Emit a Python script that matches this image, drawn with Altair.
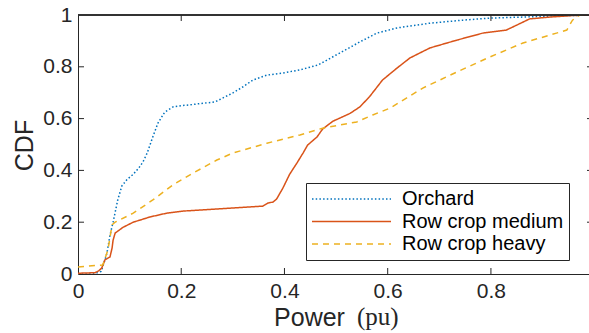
import altair as alt
import pandas as pd

series_names = ["Orchard", "Row crop medium", "Row crop heavy"]
series_colors = ["#0072BD", "#D95319", "#EDB120"]
series_dash = [[1.5, 2.2], [1, 0], [6, 5]]

orchard_x = [0, 0.03, 0.045, 0.05, 0.056, 0.062, 0.068, 0.077, 0.085, 0.095, 0.107,
             0.118, 0.126, 0.134, 0.145, 0.155, 0.168, 0.184, 0.2, 0.217, 0.236,
             0.265, 0.281, 0.30, 0.319, 0.339, 0.366, 0.397, 0.43, 0.465, 0.507,
             0.546, 0.579, 0.618, 0.68, 0.745, 0.798, 0.862, 0.93, 1.0]
orchard_y = [0, 0.0, 0.01, 0.04, 0.08, 0.15, 0.2, 0.286, 0.34, 0.365, 0.385,
             0.41, 0.433, 0.467, 0.53, 0.583, 0.625, 0.645, 0.65, 0.653, 0.658,
             0.664, 0.68, 0.699, 0.722, 0.749, 0.768, 0.776, 0.788, 0.807, 0.853,
             0.896, 0.93, 0.95, 0.968, 0.98, 0.988, 0.992, 0.997, 1.0]

medium_x = [0, 0.033, 0.04, 0.046, 0.052, 0.062, 0.066, 0.068, 0.072, 0.087, 0.107,
            0.139, 0.172, 0.204, 0.269, 0.333, 0.358, 0.368, 0.378, 0.385, 0.397,
            0.41, 0.424, 0.436, 0.445, 0.463, 0.474, 0.494, 0.527, 0.546, 0.565,
            0.59, 0.618, 0.643, 0.682, 0.734, 0.784, 0.83, 0.85, 0.875, 0.914,
            0.96, 1.0]
medium_y = [0.003, 0.005, 0.012, 0.023, 0.054, 0.066, 0.1, 0.131, 0.158, 0.18, 0.2,
            0.22, 0.235, 0.243, 0.251, 0.259, 0.262, 0.274, 0.278, 0.29, 0.332,
            0.385, 0.428, 0.467, 0.498, 0.529, 0.56, 0.59, 0.62, 0.645, 0.685,
            0.749, 0.795, 0.834, 0.873, 0.903, 0.93, 0.942, 0.961, 0.985, 0.992,
            0.998, 1.0]

heavy_x = [0, 0.048, 0.058, 0.066, 0.072, 0.107, 0.145, 0.184, 0.223, 0.269, 0.30,
           0.366, 0.43, 0.474, 0.54, 0.571, 0.604, 0.637, 0.668, 0.734, 0.798,
           0.862, 0.927, 0.947, 0.958, 0.972, 1.0]
heavy_y = [0.027, 0.035, 0.093, 0.19, 0.2, 0.235, 0.286, 0.344, 0.39, 0.44, 0.467,
           0.505, 0.537, 0.563, 0.587, 0.614, 0.64, 0.68, 0.718, 0.78, 0.838,
           0.892, 0.93, 0.942, 0.98, 1.0, 1.0]

x_ticks = [0, 0.2, 0.4, 0.6, 0.8]
y_ticks = [0, 0.2, 0.4, 0.6, 0.8, 1]

rows = []
for name, xs_, ys_ in zip(series_names, [orchard_x, medium_x, heavy_x],
                          [orchard_y, medium_y, heavy_y]):
    for i, (a, b) in enumerate(zip(xs_, ys_)):
        rows.append({"series": name, "power": a, "cdf": b, "i": i})
df = pd.DataFrame(rows)

W, H = 511, 259
AX = "#262626"
FONT = "Liberation Sans"

xscale = alt.Scale(domain=[0, 0.99], nice=False, zero=False)
yscale = alt.Scale(domain=[0, 1], nice=False)

x_axis = alt.Axis(values=x_ticks, format="~g", title="Power",
                  labelFontSize=21, labelPadding=6, labelFlush=False,
                  titleFontSize=25,
                  titleX=231, titleY=51, titleBaseline="alphabetic",
                  titleAnchor="middle", titleAlign="center")
y_axis = alt.Axis(values=y_ticks, format="~g", title="CDF",
                  labelFontSize=21, labelPadding=6, labelFlush=False,
                  titleFontSize=25,
                  titleX=-46, titleY=130, titleAngle=270,
                  titleBaseline="alphabetic", titleAlign="center")

legend = alt.Legend(
    title=None, orient="none", legendX=228, legendY=168,
    symbolType="stroke", symbolSize=6241, symbolStrokeWidth=1.5,
    labelFontSize=20, labelFont=FONT, labelColor="black", labelOffset=10,
    labelLimit=400,
    clipHeight=22, rowPadding=0.5, padding=5,
    strokeColor=AX, fillColor="white",
)

lines = alt.Chart(df).mark_line(strokeWidth=1.5, clip=True).encode(
    x=alt.X("power:Q", scale=xscale, axis=x_axis),
    y=alt.Y("cdf:Q", scale=yscale, axis=y_axis),
    color=alt.Color("series:N", scale=alt.Scale(domain=series_names, range=series_colors),
                    legend=legend),
    strokeDash=alt.StrokeDash("series:N",
                              scale=alt.Scale(domain=series_names, range=series_dash),
                              legend=legend),
    order="i:Q",
)

xt = pd.DataFrame({"power": x_ticks[1:]})
yt = pd.DataFrame({"cdf": y_ticks[1:-1]})

bottom_ticks = alt.Chart(xt).mark_rule(color=AX, strokeWidth=1).encode(
    x=alt.X("power:Q", scale=xscale, axis=x_axis), y=alt.value(H), y2=alt.value(H - 6))
top_ticks = alt.Chart(xt).mark_rule(color=AX, strokeWidth=1).encode(
    x=alt.X("power:Q", scale=xscale, axis=x_axis), y=alt.value(0), y2=alt.value(6))
left_ticks = alt.Chart(yt).mark_rule(color=AX, strokeWidth=1).encode(
    y=alt.Y("cdf:Q", scale=yscale, axis=y_axis), x=alt.value(0), x2=alt.value(6))
right_ticks = alt.Chart(yt).mark_rule(color=AX, strokeWidth=1).encode(
    y=alt.Y("cdf:Q", scale=yscale, axis=y_axis), x=alt.value(W - 2), x2=alt.value(W))
top_line = alt.Chart(xt).mark_rule(color=AX, strokeWidth=1).encode(
    x=alt.value(0), x2=alt.value(W), y=alt.value(0))

unit = alt.Chart(pd.DataFrame({"t": ["(pu)"]})).mark_text(
    font="Liberation Serif", fontSize=25, align="left", baseline="alphabetic",
    color=AX).encode(text="t:N", x=alt.value(279), y=alt.value(H + 51))

chart = alt.layer(
    lines, bottom_ticks, top_ticks, left_ticks, right_ticks, top_line, unit
).properties(
    width=W, height=H,
    autosize=alt.AutoSizeParams(type="none"),
    padding={"left": 78, "top": 15, "right": 0, "bottom": 59},
).configure_view(stroke=None).configure_axis(
    domainColor=AX, domainWidth=1, labelColor=AX, titleColor=AX,
    labelFont=FONT, titleFont=FONT, grid=False, ticks=False,
    titleFontWeight="normal",
)

chart.save("out.html", embed_options={"renderer": "svg", "actions": False})
